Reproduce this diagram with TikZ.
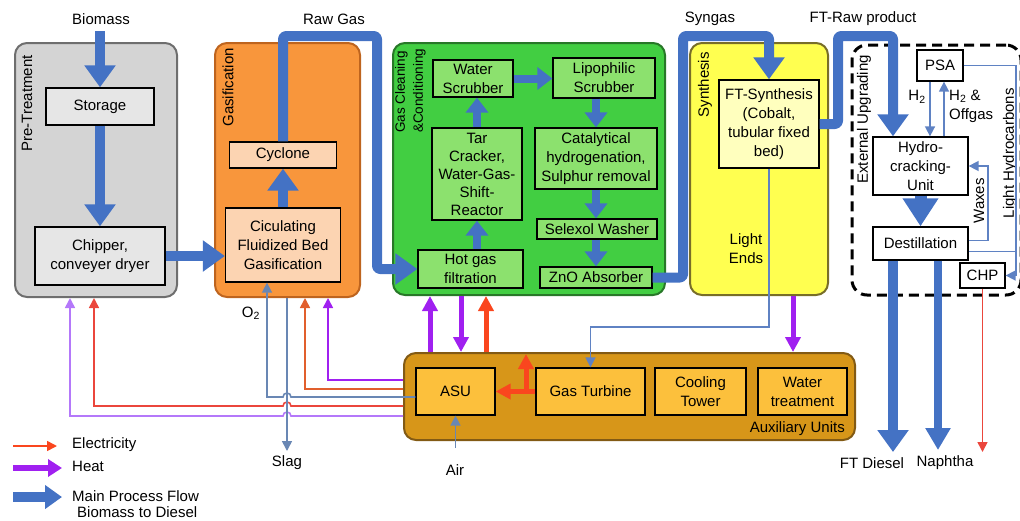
\documentclass[tikz,border=0pt]{standalone}
\usepackage{fontspec}
\setmainfont{Liberation Sans}
\usetikzlibrary{arrows.meta,calc}

% flows
\definecolor{flowblue}{RGB}{68,114,196}
\definecolor{pipeblue}{RGB}{95,130,195}
\definecolor{slateblue}{RGB}{105,135,180}
\definecolor{heatvivid}{RGB}{160,32,240}
\definecolor{heatpale}{RGB}{180,120,250}
\definecolor{elecred}{RGB}{250,70,30}
\definecolor{elecorange}{RGB}{225,95,45}
\definecolor{elecpale}{RGB}{235,70,60}
% areas
\definecolor{pregray}{RGB}{212,212,212}
\definecolor{preborder}{RGB}{110,110,110}
\definecolor{unitgray}{RGB}{230,230,230}
\definecolor{gasorange}{RGB}{248,150,60}
\definecolor{gasborder}{RGB}{190,100,30}
\definecolor{peach}{RGB}{252,212,178}
\definecolor{cleangreen}{RGB}{66,206,66}
\definecolor{cleanborder}{RGB}{40,120,40}
\definecolor{unitgreen}{RGB}{140,225,110}
\definecolor{synyellow}{RGB}{255,255,80}
\definecolor{synborder}{RGB}{120,110,40}
\definecolor{unityellow}{RGB}{255,255,190}
\definecolor{auxgold}{RGB}{215,150,25}
\definecolor{auxborder}{RGB}{130,90,20}
\definecolor{unitgold}{RGB}{252,192,60}

\begin{document}
\begin{tikzpicture}[x=1pt,y=-1pt,
  every node/.style={font=\fontsize{15}{19}\selectfont, inner sep=0pt},
  area/.style={rounded corners=12pt, line width=2pt},
  unit/.style={draw=black, line width=1.3pt, align=center},
  grouplabel/.style={rotate=90, anchor=east},
  bigflow/.style={draw=flowblue, line width=10pt, line join=round, rounded corners=3pt,
    -{Triangle[width=30pt,length=22pt]}},
  midflow/.style={draw=flowblue, line width=8pt, -{Triangle[width=22pt,length=15pt]}},
  heatflow/.style={draw=heatvivid, line width=5pt, -{Triangle[width=15pt,length=15pt]}},
  elecflow/.style={draw=elecred, line width=5pt, -{Triangle[width=15pt,length=15pt]}},
  pipe/.style={line width=1.6pt, -{Triangle[width=10pt,length=10pt]}},
]
\useasboundingbox (0,0) rectangle (1020,520);
\clip (0,0) rectangle (1020,520);

% ---------- process areas ----------
\node[area, draw=preborder, fill=pregray, minimum width=162pt, minimum height=254pt] (pre) at (96,170) {};
\node[area, draw=gasborder, fill=gasorange, minimum width=145pt, minimum height=254pt] (gasif) at (287.5,170) {};
\node[area, draw=cleanborder, fill=cleangreen, minimum width=272pt, minimum height=252pt] (clean) at (529,169) {};
\node[area, draw=synborder, fill=synyellow, minimum width=138pt, minimum height=252pt] (synth) at (759,169) {};
\node[area, draw=auxborder, fill=auxgold, minimum width=451pt, minimum height=87pt] (aux) at (629.5,396.5) {};
\node[draw=black, line width=3pt, dash pattern=on 10pt off 6pt, rounded corners=15pt,
      minimum width=169pt, minimum height=250pt] (ext) at (936.5,170) {};

% area labels
\node[grouplabel] (lpre) at (27,55) {Pre-Treatment};
\node[grouplabel] (lgas) at (228,48) {Gasification};
\node[rotate=90, anchor=north west, align=left, font=\fontsize{13.5}{18}\selectfont] (lclean) at (395,133) {Gas Cleaning\\\&Conditioning};
\node[grouplabel] (lsyn) at (705,52) {Synthesis};
\node[grouplabel] (lext) at (864,55) {External Upgrading};
\node[anchor=south east] (laux) at (845,436) {Auxiliary Units};

% ---------- units ----------
\node[unit, fill=unitgray, minimum width=108pt, minimum height=37pt] (storage) at (100,106.5) {Storage};
\node[unit, fill=unitgray, minimum width=130pt, minimum height=58pt] (chipper) at (100,256) {Chipper,\\conveyer dryer};

\node[unit, fill=peach, minimum width=107pt, minimum height=26pt] (cyclone) at (283,155) {Cyclone};
\node[unit, fill=peach, minimum width=115pt, minimum height=74pt] (cfb) at (283,245) {Ciculating\\Fluidized Bed\\Gasification};

\node[unit, fill=unitgreen, minimum width=80pt, minimum height=37pt] (water) at (473,78.5) {Water\\Scrubber};
\node[unit, fill=unitgreen, minimum width=102pt, minimum height=40pt] (lipo) at (604,78) {Lipophilic\\Scrubber};
\node[unit, fill=unitgreen, minimum width=90pt, minimum height=92pt, font=\fontsize{15}{18}\selectfont] (tar) at (477,174) {Tar\\Cracker,\\Water-Gas-\\Shift-\\Reactor};
\node[unit, fill=unitgreen, minimum width=122pt, minimum height=61pt] (cat) at (596,158.5) {Catalytical\\hydrogenation,\\Sulphur removal};
\node[unit, fill=unitgreen, minimum width=120pt, minimum height=20pt] (selexol) at (597,229) {Selexol Washer};
\node[unit, fill=unitgreen, minimum width=112pt, minimum height=21pt] (zno) at (596,277.5) {ZnO Absorber};
\node[unit, fill=unitgreen, minimum width=105pt, minimum height=38pt] (hotgas) at (470.5,269) {Hot gas\\filtration};

\node[unit, fill=unityellow, minimum width=100pt, minimum height=88pt] (ft) at (769,124) {FT-Synthesis\\(Cobalt,\\tubular fixed\\bed)};
\node[align=center] (lends) at (746,249) {Light\\Ends};

\node[unit, fill=unitgold, minimum width=79pt, minimum height=47pt] (asu) at (455.5,391.5) {ASU};
\node[unit, fill=unitgold, minimum width=109pt, minimum height=47pt] (gt) at (590.5,391.5) {Gas Turbine};
\node[unit, fill=unitgold, minimum width=91pt, minimum height=47pt] (cool) at (700.5,391.5) {Cooling\\Tower};
\node[unit, fill=unitgold, minimum width=89pt, minimum height=47pt] (wt) at (802.5,391.5) {Water\\treatment};

\node[unit, fill=white, minimum width=46pt, minimum height=31pt] (psa) at (940,65.5) {PSA};
\node[unit, fill=white, minimum width=95pt, minimum height=58pt] (hcu) at (920.5,166) {Hydro-\\cracking-\\Unit};
\node[unit, fill=white, minimum width=95pt, minimum height=33pt] (dest) at (920.5,243.5) {Destillation};
\node[unit, fill=white, minimum width=45pt, minimum height=25pt] (chp) at (982.5,275.5) {CHP};

% ---------- stream labels ----------
\node (tbio) at (101,19) {Biomass};
\node (traw) at (334,19) {Raw Gas};
\node (tsyn) at (710,19) {Syngas};
\node (tftr) at (863,19) {FT-Raw product};
\node (to2) at (251,313) {O\textsubscript{2}};
\node (tslag) at (287,463) {Slag};
\node (tair) at (455,470) {Air};
\node (tdiesel) at (872,463) {FT Diesel};
\node (tnaph) at (945,463) {Naphtha};
\node (th2) at (917,97) {H\textsubscript{2}};
\node[align=left, anchor=north west] (toff) at (949,90) {H\textsubscript{2} \&\\Offgas};
\node[grouplabel] (twax) at (979,178) {Waxes};
\node[grouplabel] (tlhc) at (1010,88) {Light Hydrocarbons};

% ---------- helper coordinates ----------
\coordinate (bioin) at (100,31);
\coordinate (rawtop) at (377,36);
\coordinate (syntop) at (683,36);
\coordinate (ftrtop) at (838,36);
\coordinate (dieselend) at (893,452);
\coordinate (naphend) at (938,450);
\coordinate (h2x) at (930,0);
\coordinate (offx) at (944,0);
\coordinate (waxx) at (988,0);
\coordinate (lhcx) at (1016,0);
\coordinate (lerow) at (0,327);
\coordinate (synheat) at (793,0);
\coordinate (hup) at (430,0);
\coordinate (hdown) at (461,0);
\coordinate (eup) at (486,0);
\coordinate (ebranch) at (526,0);
\coordinate (slagx) at (287,0);
\coordinate (slagend) at (287,451);
\coordinate (airin) at (455.5,448);

% ---------- main process flow ----------
\draw[bigflow] (bioin) -- (storage.north);
\draw[bigflow] (storage.south) -- (chipper.north);
\draw[bigflow] (chipper.east) -- (chipper.east -| cfb.west);
\draw[bigflow] (cfb.north) -- (cyclone.south);
\draw[bigflow] (cyclone.north) |- (rawtop) |- (hotgas.west);

\draw[midflow] (tar.south |- hotgas.north) -- (tar.south);
\draw[midflow] (tar.north) -- (tar.north |- water.south);
\draw[midflow] (water.east) -- (water.east -| lipo.west);
\draw[midflow] (cat.north |- lipo.south) -- (cat.north);
\draw[midflow] (cat.south) -- (cat.south |- selexol.north);
\draw[midflow] (zno.north |- selexol.south) -- (zno.north);

\draw[bigflow] (zno.east) -| (syntop) -| (ft.north);
\draw[bigflow] (ft.east) -| (ftrtop) -| (hcu.north -| dieselend);
\draw[draw=flowblue, line width=12pt, -{Triangle[width=34pt,length=28pt]}] (hcu.south) -- (dest.north);
\draw[bigflow] (dest.south -| dieselend) -- (dieselend);
\draw[draw=flowblue, line width=8pt, -{Triangle[width=24pt,length=22pt]}] (dest.south -| naphend) -- (naphend);

% ---------- upgrading side streams ----------
\draw[pipe, draw=pipeblue] (psa.south -| h2x) -- (hcu.north -| h2x);
\draw[pipe, draw=pipeblue] (hcu.north -| offx) -- (psa.south -| offx);
\draw[pipe, draw=pipeblue] ($(dest.east)+(0,-3)$) -| (waxx |- hcu.east) -- (hcu.east);
\draw[pipe, draw=pipeblue] (psa.east) -| (lhcx |- chp.east) -- (chp.east);
\draw[line width=1.6pt, draw=pipeblue] ($(dest.east)+(0,8)$) -- (lhcx |- 0,251.5);
\draw[pipe, draw=elecpale] (chp.south) -- (chp.south |- dieselend);

% ---------- light ends to gas turbine ----------
\draw[pipe, draw=pipeblue] (ft.south) |- (gt.north |- lerow) -- (gt.north);

% ---------- heat and electricity ----------
\draw[heatflow] (synth.south -| synheat) -- (aux.north -| synheat);
\draw[heatflow] (aux.north -| hup) -- (clean.south -| hup);
\draw[heatflow] (clean.south -| hdown) -- (aux.north -| hdown);
\draw[elecflow] (aux.north -| eup) -- (clean.south -| eup);
\draw[elecflow] (gt.west) -- (asu.east);
\draw[elecflow] (gt.west -| ebranch) -- ($(aux.north -| ebranch)+(0,2)$);

% ASU supply lines to gasification and pre-treatment
\draw[pipe, draw=heatvivid] (aux.west |- 0,380) -| (328,0 |- gasif.south);
\draw[pipe, draw=elecorange] (aux.west |- 0,389) -| (305,0 |- gasif.south);
\draw[pipe, draw=slateblue] (asu.west |- 0,397) -- (291,397) arc[start angle=0,end angle=180,radius=4pt]
  -| (267,0 |- cfb.south);
\draw[pipe, draw=elecpale] (aux.west |- 0,406) -- (291,406) arc[start angle=0,end angle=180,radius=4pt]
  -| (94,0 |- pre.south);
\draw[pipe, draw=heatpale] (aux.west |- 0,416) -- (291,416) arc[start angle=0,end angle=180,radius=4pt]
  -| (70,0 |- pre.south);
\draw[pipe, draw=slateblue] (gasif.south -| slagx) -- (slagend);
\draw[pipe, draw=slateblue] (airin) -- (asu.south);

% ---------- legend ----------
\coordinate (le1) at (13,446);  \coordinate (le2) at (57,446);
\coordinate (lh1) at (13,468);  \coordinate (lh2) at (62,468);
\coordinate (lm1) at (13,497);  \coordinate (lm2) at (62,497);
\draw[pipe, draw=elecred] (le1) -- (le2);
\draw[draw=heatvivid, line width=6pt, -{Triangle[width=17pt,length=14pt]}] (lh1) -- (lh2);
\draw[draw=flowblue, line width=10pt, -{Triangle[width=23pt,length=17pt]}] (lm1) -- (lm2);
\node[anchor=west] (kelec) at (72,445) {Electricity};
\node[anchor=west] (kheat) at (72,466) {Heat};
\node[anchor=west] (kmain) at (72,496) {Main Process Flow};
\node[anchor=west] (kmain2) at (77,512) {Biomass to Diesel};
\end{tikzpicture}
\end{document}
